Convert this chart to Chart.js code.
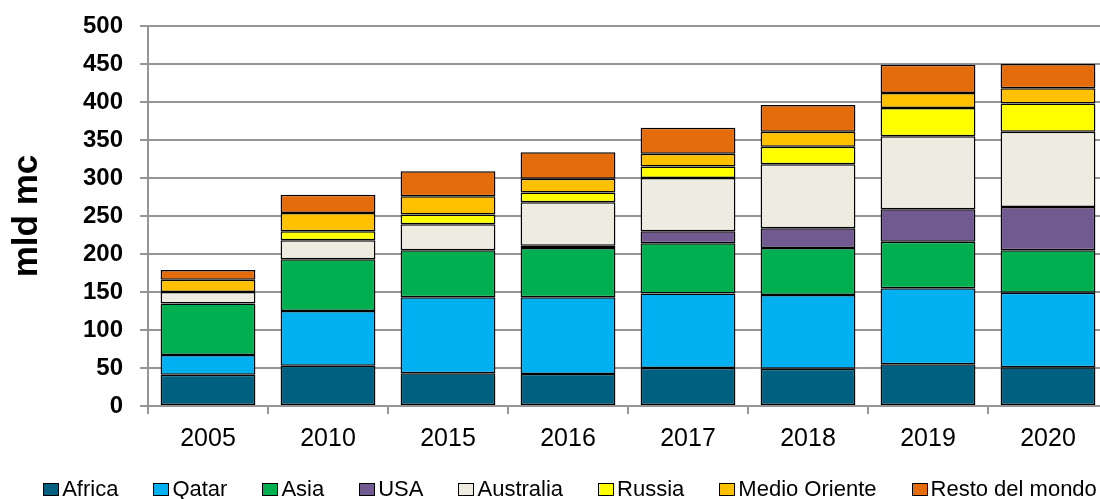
<!DOCTYPE html>
<html>
<head>
<meta charset="utf-8">
<script src="https://cdn.jsdelivr.net/npm/chart.js@4/dist/chart.umd.min.js"></script>
<style>
  html, body { margin: 0; padding: 0; overflow: hidden; background: #fff; }
  #wrap { position: relative; width: 1140px; height: 499px; }
  #legend {
    position: absolute; left: 0; top: 476px; width: 1140px; height: 26px;
    display: flex; justify-content: center; gap: 35px;
    font: 22px "Liberation Sans", Arial, sans-serif; line-height: 26px; color: #000;
  }
  .item { display: flex; align-items: center; white-space: nowrap; }
  .box { width: 14px; height: 11px; border: 1.5px solid #000; margin-right: 3px; }
</style>
</head>
<body>
<div id="wrap">
  <canvas id="chart" width="1140" height="499"></canvas>
  <div id="legend"></div>
</div>
<script>
// Years on the category axis
const years = ['2005', '2010', '2015', '2016', '2017', '2018', '2019', '2020'];

// LNG supply by origin, billion cubic metres (mld mc)
const africa       = [41, 53, 43, 42, 50, 49, 55, 51];
const qatar        = [26, 72, 100, 101, 98, 97, 100, 98];
const asia         = [68, 68, 62, 65, 66, 62, 61, 56];
const usa          = [0, 0, 0, 3, 16, 26, 43, 57];
const australia    = [15, 25, 34, 57, 70, 84, 96, 99];
const russia       = [0, 12, 13, 13, 15, 23, 37, 37];
const medioOriente = [16, 24, 24, 18, 17, 20, 20, 20];
const resto        = [13, 24, 33, 35, 34, 35, 37, 32];

// Value axis
const yMin = 0, yMax = 500, yStep = 50;

const seriesNames = ['Africa', 'Qatar', 'Asia', 'USA', 'Australia', 'Russia', 'Medio Oriente', 'Resto del mondo'];
const seriesData = [africa, qatar, asia, usa, australia, russia, medioOriente, resto];
const seriesColors = ['#00607F', '#00B0F0', '#00B050', '#715A8F', '#EEECE1', '#FFFF00', '#FFC000', '#E46C0A'];

const gridGray = '#959595';
const font = '"Liberation Sans", Arial, sans-serif';

const datasets = seriesNames.map((name, i) => ({
  label: name,
  data: seriesData[i],
  backgroundColor: seriesColors[i],
  borderColor: '#000',
  borderWidth: 1.5,
  borderSkipped: false,
  categoryPercentage: 1,
  barPercentage: 0.79
}));

new Chart(document.getElementById('chart'), {
  type: 'bar',
  data: { labels: years, datasets },
  options: {
    responsive: false,
    animation: false,
    layout: { padding: { left: 0, right: 32, top: 26, bottom: 0 } },
    plugins: { legend: { display: false }, tooltip: { enabled: false } },
    scales: {
      x: {
        stacked: true,
        offset: true,
        grid: { display: true, drawOnChartArea: false, drawTicks: true, tickLength: 8, color: gridGray, lineWidth: 2, offset: true },
        border: { display: true, color: gridGray, width: 2 },
        ticks: { color: '#000', font: { family: font, size: 25 }, padding: 10 },
        afterFit(scale) { scale.height = 93; }
      },
      y: {
        stacked: true,
        min: yMin,
        max: yMax,
        ticks: { stepSize: yStep, color: '#000', font: { family: font, size: 24, weight: 'bold' }, padding: 17 },
        grid: { color: gridGray, lineWidth: 2, tickLength: 8 },
        border: { display: true, color: gridGray, width: 2 },
        title: {
          display: true, text: 'mld mc', color: '#000',
          font: { family: font, size: 35, weight: 'bold' },
          padding: { top: 6, bottom: 0 }
        },
        afterFit(scale) {
          scale.width = 148;
          // the top label may sit in the outer margin
          scale.paddingTop = 10;
          scale.paddingBottom = 10;
        }
      }
    }
  }
});

// Legend row under the chart
const legend = document.getElementById('legend');
seriesNames.forEach((name, i) => {
  const item = document.createElement('div');
  item.className = 'item';
  const box = document.createElement('span');
  box.className = 'box';
  box.style.background = seriesColors[i];
  const label = document.createElement('span');
  label.textContent = name;
  item.appendChild(box);
  item.appendChild(label);
  legend.appendChild(item);
});
</script>
</body>
</html>
